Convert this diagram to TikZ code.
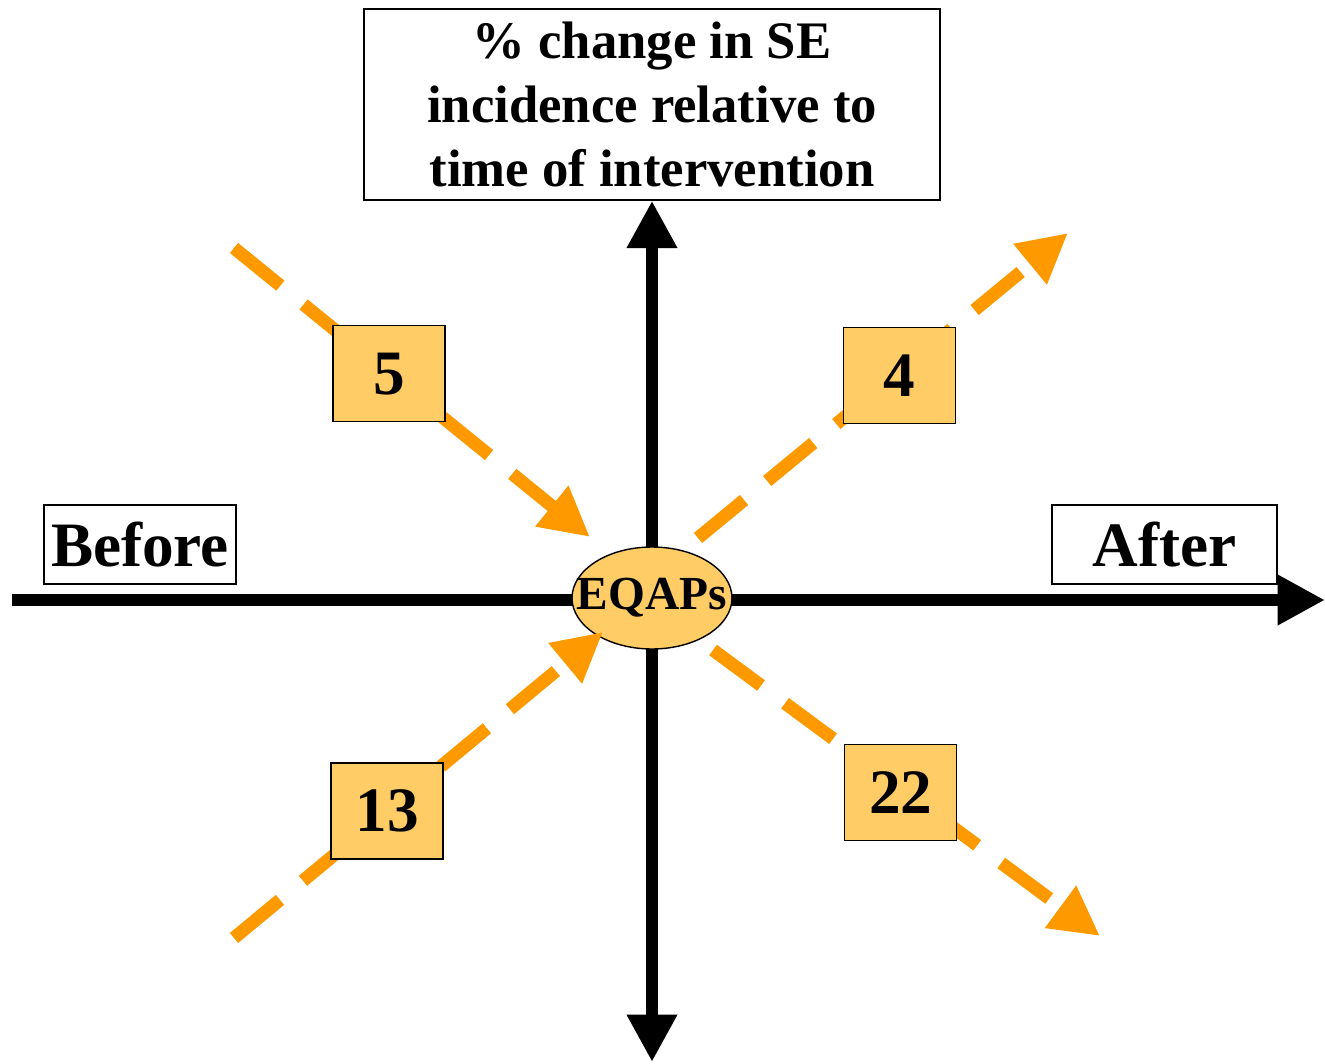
\documentclass[tikz,border=0pt]{standalone}
\usepackage{fontspec}
\setmainfont{Liberation Serif}
\usepackage{tikz}
\usetikzlibrary{arrows.meta, positioning, shapes.geometric}
\definecolor{boxfill}{HTML}{FFCC66}
\definecolor{flowor}{HTML}{FF9900}
\tikzset{
  axis/.style={line width=6.8pt, black},
  axistip/.style={-{Triangle[length=27pt,width=27pt]}},
  flow/.style={line width=7.4pt, flowor, dash pattern=on 34pt off 17pt,
               -{Triangle[length=28pt,width=28pt]}},
  numbox/.style={draw=black, line width=0.8pt, fill=boxfill, minimum width=2.24cm,
                 minimum height=1.92cm, inner sep=0pt, solid,
                 font=\fontsize{36}{40}\bfseries\selectfont, text=black},
  lblbox/.style={draw=black, line width=0.8pt, fill=white, minimum height=1.58cm,
                 inner sep=0pt, font=\fontsize{36}{40}\bfseries\selectfont},
  titlebox/.style={draw=black, line width=0.8pt, fill=white, minimum width=11.52cm,
                   minimum height=3.82cm, inner sep=0pt, align=center,
                   font=\fontsize{30}{36.3}\bfseries\selectfont},
  hub/.style={ellipse, draw=black, line width=0.8pt, fill=boxfill, minimum width=3.2cm,
              minimum height=2.04cm, inner xsep=-0.4cm, inner ysep=0pt,
              font=\fontsize{27}{30}\bfseries\selectfont}
}
\begin{document}
\begin{tikzpicture}[x=0.02cm, y=-0.02cm]
\useasboundingbox (0,0) rectangle (1325,1064);
\coordinate (zero) at (652,600);
\coordinate (west) at (12,600);
\coordinate (east) at (1325,600);
\coordinate (south) at (652,1062);
\node[titlebox] (title) at (652,104.5) {\% change in SE\\incidence relative to\\time of intervention};
\node[lblbox, minimum width=3.84cm] (before) at (140,544.5) {Before};
\node[lblbox, minimum width=4.5cm] (after) at (1164.5,544.5) {After};

% axes
\draw[axis, axistip] (west) -- (east);
\draw[axis, {Triangle[length=27pt,width=27pt]}-{Triangle[length=27pt,width=27pt]}] (south) -- (title.south);

\node[hub] (eqaps) at (652,598) {EQAPs};

% flows into and out of the intervention
\coordinate (in5) at (234,248);
\coordinate (tip5) at (590,537);
\coordinate (in13) at (234,938);
\coordinate (tip13) at (603,632);
\coordinate (out4) at (698,538);
\coordinate (tip4) at (1068,233);
\coordinate (out22) at (713,650);
\coordinate (tip22) at (1100,936);

\draw[flow] (in5) -- node[numbox, pos=0.435] (n5) {5} (tip5);
\draw[flow] (in13) -- node[numbox, pos=0.415] (n13) {13} (tip13);
\draw[flow] (out4) -- node[numbox, pos=0.545, yshift=-0.08cm] (n4) {4} (tip4);
\draw[flow] (out22) -- node[numbox, pos=0.48, xshift=0.04cm, yshift=-0.1cm] (n22) {22} (tip22);
\end{tikzpicture}
\end{document}
